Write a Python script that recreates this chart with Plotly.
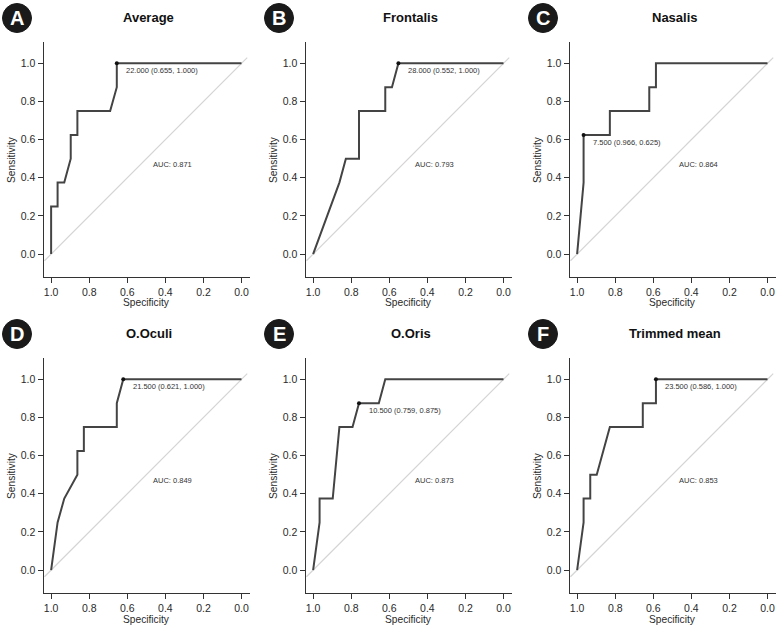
import plotly.graph_objects as go

# ---------------- data ----------------
panel_letters = ["A", "B", "C", "D", "E", "F"]
panel_titles = ["Average", "Frontalis", "Nasalis", "O.Oculi", "O.Oris", "Trimmed mean"]

avg_spec = [1.0, 1.0, 0.966, 0.966, 0.931, 0.897, 0.897, 0.862, 0.862, 0.690, 0.655, 0.655, 0.0]
avg_sens = [0.0, 0.25, 0.25, 0.375, 0.375, 0.5, 0.625, 0.625, 0.75, 0.75, 0.875, 1.0, 1.0]

fro_spec = [1.0, 0.862, 0.828, 0.759, 0.759, 0.621, 0.621, 0.586, 0.552, 0.0]
fro_sens = [0.0, 0.375, 0.5, 0.5, 0.75, 0.75, 0.875, 0.875, 1.0, 1.0]

nas_spec = [1.0, 0.966, 0.966, 0.828, 0.828, 0.621, 0.621, 0.586, 0.586, 0.0]
nas_sens = [0.0, 0.375, 0.625, 0.625, 0.75, 0.75, 0.875, 0.875, 1.0, 1.0]

ocu_spec = [1.0, 0.966, 0.931, 0.862, 0.862, 0.828, 0.828, 0.655, 0.655, 0.621, 0.0]
ocu_sens = [0.0, 0.25, 0.375, 0.5, 0.625, 0.625, 0.75, 0.75, 0.875, 1.0, 1.0]

ori_spec = [1.0, 0.966, 0.966, 0.897, 0.862, 0.793, 0.759, 0.655, 0.621, 0.0]
ori_sens = [0.0, 0.25, 0.375, 0.375, 0.75, 0.75, 0.875, 0.875, 1.0, 1.0]

tri_spec = [1.0, 0.966, 0.966, 0.931, 0.931, 0.897, 0.828, 0.655, 0.655, 0.586, 0.586, 0.0]
tri_sens = [0.0, 0.25, 0.375, 0.375, 0.5, 0.5, 0.75, 0.75, 0.875, 0.875, 1.0, 1.0]

thr_values = [22.000, 28.000, 7.500, 21.500, 10.500, 23.500]
thr_spec = [0.655, 0.552, 0.966, 0.621, 0.759, 0.586]
thr_sens = [1.000, 1.000, 0.625, 1.000, 0.875, 1.000]

auc_values = [0.871, 0.793, 0.864, 0.849, 0.873, 0.853]

diag_x = [1.035, -0.03]
diag_y = [-0.035, 1.03]

tick_vals = [0.0, 0.2, 0.4, 0.6, 0.8, 1.0]
tick_text = ["0.0", "0.2", "0.4", "0.6", "0.8", "1.0"]

curves_spec = [avg_spec, fro_spec, nas_spec, ocu_spec, ori_spec, tri_spec]
curves_sens = [avg_sens, fro_sens, nas_sens, ocu_sens, ori_sens, tri_sens]

# ---------------- layout geometry ----------------
W, H = 784, 635
col_left = [43.5, 305.5, 569.5]
row_top = [42.0, 358.0]
pw, ph = 206.0, 235.0
FONT = "Liberation Sans, Arial, sans-serif"

fig = go.Figure()
layout = dict(
    width=W, height=H,
    margin=dict(l=0, r=0, t=0, b=0),
    paper_bgcolor="white", plot_bgcolor="white",
    showlegend=False,
    font=dict(family=FONT, color="#333333"),
)
annotations = []
shapes = []

for i in range(6):
    r, c = divmod(i, 3)
    l = col_left[c]
    t = row_top[r]
    xd = [l / W, (l + pw) / W]
    yd = [1 - (t + ph) / H, 1 - t / H]
    xa = "x" if i == 0 else f"x{i+1}"
    ya = "y" if i == 0 else f"y{i+1}"
    xkey = "xaxis" if i == 0 else f"xaxis{i+1}"
    ykey = "yaxis" if i == 0 else f"yaxis{i+1}"

    common = dict(
        showgrid=False, zeroline=False, showline=True, linecolor="#333333",
        linewidth=1, ticks="outside", ticklen=5, tickcolor="#333333",
        tickwidth=1, tickvals=tick_vals, ticktext=tick_text,
        tickfont=dict(size=10.5, color="#2a2a2a", family=FONT),
    )
    layout[xkey] = dict(common, domain=xd, anchor=ya, range=[1.04, -0.042])
    layout[ykey] = dict(common, domain=yd, anchor=xa, range=[-0.12, 1.112])

    # diagonal reference line
    fig.add_trace(go.Scatter(x=diag_x, y=diag_y, mode="lines",
                             line=dict(color="#d4d4d4", width=1.2),
                             xaxis=xa, yaxis=ya, hoverinfo="skip"))
    # ROC curve
    fig.add_trace(go.Scatter(x=curves_spec[i], y=curves_sens[i], mode="lines",
                             line=dict(color="#444444", width=2),
                             xaxis=xa, yaxis=ya))
    # threshold point
    fig.add_trace(go.Scatter(x=[thr_spec[i]], y=[thr_sens[i]], mode="markers",
                             marker=dict(color="#111111", size=4),
                             xaxis=xa, yaxis=ya))
    annotations.append(dict(
        x=thr_spec[i], y=thr_sens[i], xref=xa, yref=ya,
        text=f"{thr_values[i]:.3f} ({thr_spec[i]:.3f}, {thr_sens[i]:.3f})",
        showarrow=False, xanchor="left", yanchor="middle",
        xshift=7.5, yshift=-7.3,
        font=dict(size=7.5, color="#333333", family=FONT)))
    annotations.append(dict(
        x=0.475, y=0.47, xref=xa, yref=ya,
        text=f"AUC: {auc_values[i]:.3f}",
        showarrow=False, xanchor="left", yanchor="middle",
        font=dict(size=7.5, color="#333333", family=FONT)))

    # title
    annotations.append(dict(
        x=(l + pw / 2 + 2) / W, y=1 - (t - 25) / H, xref="paper", yref="paper",
        text=f"<b>{panel_titles[i]}</b>", showarrow=False,
        xanchor="center", yanchor="middle",
        font=dict(size=13, color="#111111", family=FONT)))
    # axis titles
    annotations.append(dict(
        x=(l - 32) / W, y=1 - (t + ph / 2) / H, xref="paper", yref="paper",
        text="Sensitivity", textangle=-90, showarrow=False,
        xanchor="center", yanchor="middle",
        font=dict(size=10.2, color="#2a2a2a", family=FONT)))
    annotations.append(dict(
        x=(l + pw / 2) / W, y=1 - (t + ph + 26) / H, xref="paper", yref="paper",
        text="Specificity", showarrow=False,
        xanchor="center", yanchor="middle",
        font=dict(size=10.2, color="#2a2a2a", family=FONT)))

    # badge
    cx = (l - 26.5) / W
    cy = 1 - (t - 24) / H
    shapes.append(dict(type="circle", xref="paper", yref="paper",
                       xsizemode="pixel", ysizemode="pixel",
                       xanchor=cx, yanchor=cy, x0=-14.5, x1=14.5, y0=-14.5, y1=14.5,
                       fillcolor="#1a1a1a", line=dict(color="#1a1a1a", width=1)))
    annotations.append(dict(
        x=cx, y=cy, xref="paper", yref="paper",
        text=f"<b>{panel_letters[i]}</b>", showarrow=False,
        xanchor="center", yanchor="middle",
        font=dict(size=20, color="white", family=FONT)))

layout["annotations"] = annotations
layout["shapes"] = shapes
fig.update_layout(**layout)
fig.write_html(
    "out.html",
    config={"displayModeBar": False},
    post_script="document.body.style.margin='0px';document.body.style.overflow='hidden';",
)
